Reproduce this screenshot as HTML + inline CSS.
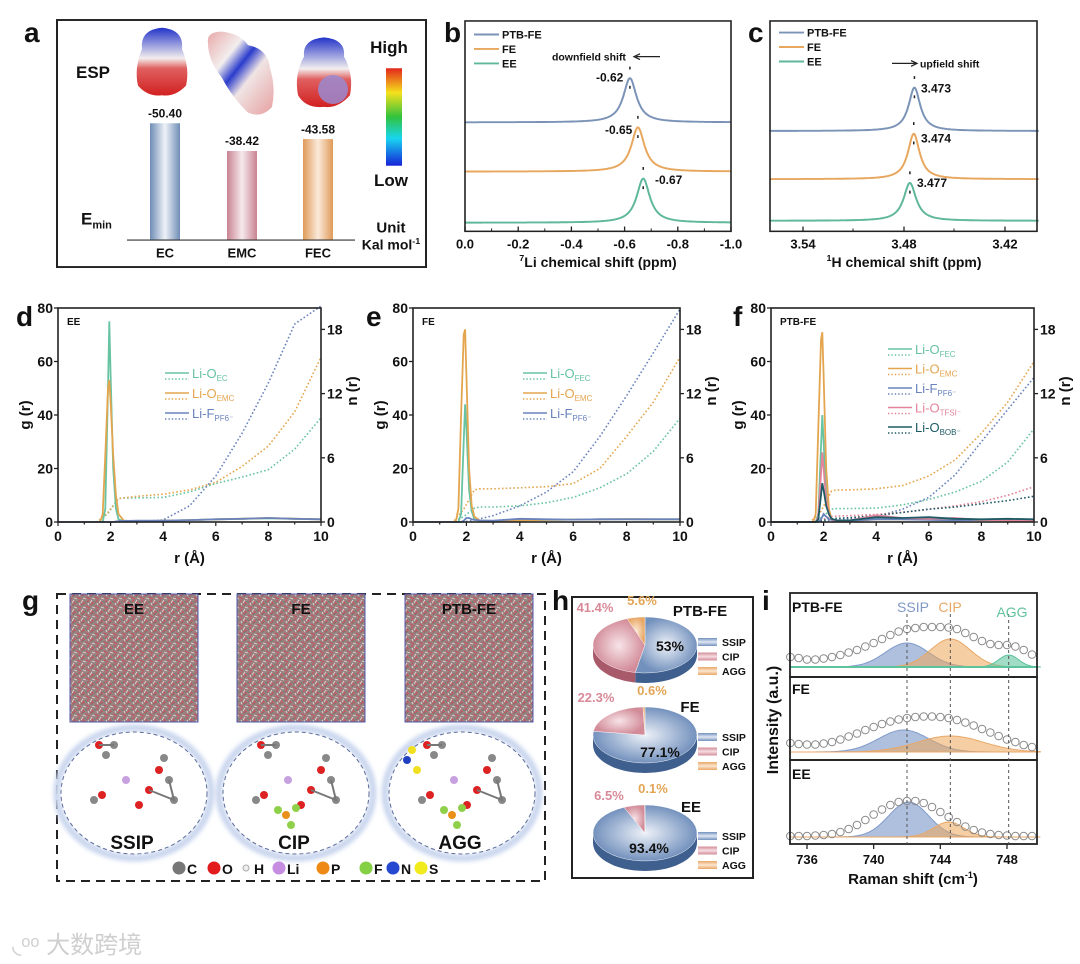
<!DOCTYPE html>
<html><head><meta charset="utf-8">
<style>
html,body{margin:0;padding:0;background:#fff;}
svg{display:block;font-family:"Liberation Sans","Noto Sans CJK SC",sans-serif;}
text{font-weight:bold;}
</style></head>
<body>
<svg id="fig" width="1080" height="964" viewBox="0 0 1080 964" xmlns="http://www.w3.org/2000/svg">
<defs>
  <linearGradient id="cbar" x1="0" y1="0" x2="0" y2="1">
    <stop offset="0" stop-color="#e3261c"/><stop offset="0.25" stop-color="#f5e11b"/>
    <stop offset="0.5" stop-color="#31c23d"/><stop offset="0.72" stop-color="#18d6f0"/>
    <stop offset="1" stop-color="#1622d8"/></linearGradient>
  <linearGradient id="barBlue" x1="0" x2="1"><stop offset="0" stop-color="#6f8db6"/><stop offset="0.5" stop-color="#eef2f8"/><stop offset="1" stop-color="#6f8db6"/></linearGradient>
  <linearGradient id="barPink" x1="0" x2="1"><stop offset="0" stop-color="#c98392"/><stop offset="0.5" stop-color="#f6e9ec"/><stop offset="1" stop-color="#c98392"/></linearGradient>
  <linearGradient id="barOrange" x1="0" x2="1"><stop offset="0" stop-color="#df9a58"/><stop offset="0.5" stop-color="#fbeadb"/><stop offset="1" stop-color="#df9a58"/></linearGradient>
  <linearGradient id="espA" x1="0" y1="0" x2="0" y2="1"><stop offset="0" stop-color="#2233c8"/><stop offset="0.45" stop-color="#f3eeee"/><stop offset="0.6" stop-color="#e06060"/><stop offset="1" stop-color="#d22020"/></linearGradient>
  <linearGradient id="espB" x1="0" y1="0" x2="1" y2="1"><stop offset="0" stop-color="#e9a9a9"/><stop offset="0.3" stop-color="#f3eeee"/><stop offset="0.45" stop-color="#2a3ccc"/><stop offset="0.6" stop-color="#f0e4e4"/><stop offset="1" stop-color="#e7a0a0"/></linearGradient>
  <radialGradient id="pieBlue"><stop offset="0" stop-color="#eef2f9"/><stop offset="1" stop-color="#7391bd"/></radialGradient>
  <radialGradient id="piePink"><stop offset="0" stop-color="#f7e4e8"/><stop offset="1" stop-color="#d28b98"/></radialGradient>
  <radialGradient id="pieOrange"><stop offset="0" stop-color="#fbe9d5"/><stop offset="1" stop-color="#e9a765"/></radialGradient>
  <linearGradient id="lgBlue" x1="0" y1="0" x2="0" y2="1"><stop offset="0" stop-color="#7391bd"/><stop offset="0.5" stop-color="#dfe7f3"/><stop offset="1" stop-color="#7391bd"/></linearGradient>
  <linearGradient id="lgPink" x1="0" y1="0" x2="0" y2="1"><stop offset="0" stop-color="#d28b98"/><stop offset="0.5" stop-color="#f6dde2"/><stop offset="1" stop-color="#d28b98"/></linearGradient>
  <linearGradient id="lgOrange" x1="0" y1="0" x2="0" y2="1"><stop offset="0" stop-color="#e9a765"/><stop offset="0.5" stop-color="#fbe6d0"/><stop offset="1" stop-color="#e9a765"/></linearGradient>
  <pattern id="md" width="9" height="9" patternUnits="userSpaceOnUse">
    <rect width="9" height="9" fill="#9a8283"/>
    <path d="M0 2 L4 0 M5 3 L9 5 M1 7 L3 9 M6 8 L8 6" stroke="#c9505c" stroke-width="1"/>
    <path d="M2 4 L5 5 M7 0 L8 2 M0 9 L2 6" stroke="#e2dbd6" stroke-width="0.9"/>
    <path d="M4 7 L6 9 M3 1 L1 3" stroke="#6a7f6b" stroke-width="0.8"/>
  </pattern>
  <filter id="blur2"><feGaussianBlur stdDeviation="2"/></filter>
</defs>
</svg>
<script>
// ---------- DATA ----------
const espMolecules = ['EC','EMC','FEC'];
const eminValues = [-50.40, -38.42, -43.58];

const nmrLiLabels = ['PTB-FE','FE','EE'];
const nmrLiCenters = [-0.62, -0.65, -0.67];
const nmrLiBaselines = [5.18, 2.84, 0.41];
const nmrLiHeights = [2.1, 2.1, 2.1];
const nmrLiWidths = [0.03, 0.03, 0.03];
const nmrLiTicks = ['0.0','-0.2','-0.4','-0.6','-0.8','-1.0'];
const nmrHLabels = ['3.473','3.474','3.477'];
const nmrHCenters = [3.4738, 3.4742, 3.4765];
const nmrHBaselines = [4.77, 2.48, 0.5];
const nmrHHeights = [2.06, 2.16, 1.8];
const nmrHWidths = [0.0042, 0.0042, 0.0045];
const nmrHTicks = [3.54, 3.48, 3.42];

const rG = [0,1.6,1.7,1.8,1.9,1.95,2.0,2.1,2.2,2.3,2.5,3,4,5,6,7,8,9,10];
const rN = [0,1,1.5,1.9,2.3,2.5,3,4,5,6,7,8,9,10];
// EE
const eeG_OEC  = [0,0,0,5,50,75,55,20,5,1,0.3,0.2,0.5,0.7,1,1.2,1.4,1.2,1];
const eeG_OEMC = [0,0,3,25,50,53,45,25,10,3,0.5,0.2,0.5,0.7,1,1.2,1.5,1.2,1];
const eeG_FPF6 = [0,0,0,0,0,0,0,0,0.2,0.3,0.4,0.5,0.5,0.7,1,1.2,1.5,1.2,1];
const eeN_OEC  = [0,0,0,0.8,2.2,2.25,2.25,2.3,2.8,3.6,4.2,4.9,6.8,9.75];
const eeN_OEMC = [0,0,0,0.9,2.2,2.25,2.4,2.6,3.0,3.7,5.2,7.1,10.3,15.4];
const eeN_FPF6 = [0,0,0,0,0,0,0,0.2,1.5,4.3,8.3,13,18.5,21];
// FE
const feG_OFEC = [0,0,0,3,30,44,35,12,4,1,0.4,0.3,0.6,0.8,0.9,1,1.1,1,1];
const feG_OEMC = [0,0,5,40,70,72,55,20,6,2,0.5,0.3,0.6,0.8,0.9,1,1.1,1,1];
const feG_FPF6 = [0,0,0,0,0.5,1,1.5,1.5,1,0.8,0.6,0.5,1.2,1,0.9,1,1,1,1];
const feN_OFEC = [0,0,0,0.5,1.3,1.4,1.4,1.5,1.8,2.3,3.2,4.5,6.6,9.7];
const feN_OEMC = [0,0,0,1.2,3.0,3.1,3.1,3.2,3.3,3.6,5.0,8.0,11.2,15.4];
const feN_FPF6 = [0,0,0,0,0.2,0.3,0.6,1.5,2.8,4.7,8,11.8,15.8,19.9];
// PTB-FE
const fG_OFEC = [0,0,0,3,28,40,30,10,3,1,0.5,0.5,1.5,1.2,1,0.8,0.8,0.6,0.5];
const fG_OEMC = [0,0,3,35,68,71,55,20,5,1,0.3,0.3,1,1,1.2,0.8,0.7,0.6,0.5];
const fG_FPF6 = [0,0,0,0,1,2,3,2,1,0.8,0.5,0.5,1,1,0.8,0.6,0.8,0.8,0.8];
const fG_OTFSI= [0,0,0,2,18,26,20,8,3,1,0.5,0.6,2.5,1.5,1.2,1.5,0.8,0.6,0.5];
const fG_OBOB = [0,0,0,1,10,14.5,12,6,3,1.2,0.6,0.6,1.8,1.5,1.8,1.2,1,1.2,1];
const fN_OFEC = [0,0,0,0.4,1.2,1.25,1.25,1.3,1.6,2.1,2.8,3.8,5.6,8.7];
const fN_OEMC = [0,0,0,1.0,2.9,3.0,3.0,3.1,3.4,4.3,5.8,8.3,11.2,15.0];
const fN_FPF6 = [0,0,0,0,0.1,0.2,0.3,0.5,1.2,2.3,4.4,7.5,10.5,13.5];
const fN_OTFSI= [0,0,0,0.2,0.5,0.55,0.6,0.7,0.9,1.2,1.5,1.9,2.5,3.3];
const fN_OBOB = [0,0,0,0.1,0.3,0.35,0.4,0.6,0.9,1.2,1.4,1.7,2.0,2.4];

const pieNames = ['PTB-FE','FE','EE'];
const pieSSIP = [53, 77.1, 93.4];
const pieCIP  = [41.4, 22.3, 6.5];
const pieAGG  = [5.6, 0.6, 0.1];

const ramanX = [735,735.5,736,736.5,737,737.5,738,738.5,739,739.5,740,740.5,741,741.5,742,742.5,743,743.5,744,744.5,745,745.5,746,746.5,747,747.5,748,748.5,749,749.5];
const ramanPTB = [0.2,0.18,0.15,0.15,0.17,0.2,0.24,0.29,0.34,0.41,0.48,0.56,0.64,0.71,0.76,0.78,0.8,0.8,0.8,0.79,0.76,0.68,0.6,0.52,0.46,0.44,0.44,0.41,0.34,0.25];
const ramanFE  = [0.18,0.16,0.15,0.15,0.17,0.2,0.25,0.31,0.37,0.44,0.5,0.56,0.61,0.65,0.68,0.7,0.71,0.71,0.7,0.68,0.64,0.59,0.53,0.46,0.39,0.32,0.25,0.2,0.14,0.1];
const ramanEE  = [0.02,0.02,0.02,0.03,0.04,0.06,0.1,0.16,0.24,0.34,0.45,0.55,0.64,0.7,0.72,0.72,0.68,0.6,0.5,0.4,0.3,0.21,0.14,0.09,0.06,0.04,0.03,0.02,0.02,0.02];
const fitCenters = [[742,744.6,748.1],[741.8,744.6],[742.1,744.5]];
const fitHeights = [[0.48,0.56,0.24],[0.44,0.32],[0.7,0.3]];
const fitSigmas  = [[1.3,1.2,0.6],[1.5,2.0],[1.2,0.9]];
const ramanTicks = [736,740,744,748];

// ---------- HELPERS ----------
const NS='http://www.w3.org/2000/svg';
const svg=document.getElementById('fig');
let cur=svg;
function mk(tag, attrs, parent){const e=document.createElementNS(NS,tag);for(const k in attrs)e.setAttribute(k,attrs[k]);(parent||cur).appendChild(e);return e;}
function txt(x,y,s,size,opts){opts=opts||{};const e=mk('text',{x:x,y:y,'font-size':size,fill:opts.fill||'#111','text-anchor':opts.anchor||'start'});if(opts.rot)e.setAttribute('transform','rotate(-90 '+x+' '+y+')');if(opts.weight)e.style.fontWeight=opts.weight;e.textContent=s;return e;}
function pathD(pts){return pts.map((p,i)=>(i?'L':'M')+p[0].toFixed(1)+' '+p[1].toFixed(1)).join(' ');}
let el;

// ---------- PANEL LABELS ----------
const panelLetters=[['a',24,42],['b',444,42],['c',748,42],['d',16,326],['e',366,326],['f',733,326],['g',22,610],['h',552,610],['i',762,610]];
panelLetters.forEach(p=>{el=txt(p[1],p[2],p[0],28);

});

const topRow=mk('g',{transform:'translate(0,0.7) scale(1,0.965)'});


cur=topRow;

// ---------- PANEL A ----------
el=mk('rect',{x:57,y:20,width:369,height:256,fill:'none',stroke:'#222','stroke-width':2});


el=txt(93,80,'ESP',17,{anchor:'middle'});


el=mk('path',{d:'M142 50 Q140 30 162 28 Q184 30 182 50 Q190 70 186 88 Q175 100 162 98 Q148 100 138 88 Q134 70 142 50 Z',fill:'url(#espA)'});


el=mk('path',{d:'M208 44 Q206 32 222 32 Q240 34 248 46 Q268 50 270 70 Q276 90 272 110 Q262 122 248 116 Q232 100 222 80 Q208 62 208 44 Z',fill:'url(#espB)'});


el=mk('path',{d:'M304 58 Q302 40 324 38 Q346 40 344 58 Q354 76 350 98 Q338 112 324 110 Q306 112 298 98 Q294 76 304 58 Z',fill:'url(#espA)'});


el=mk('circle',{cx:333,cy:92,r:15,fill:'#9a8ad0',opacity:0.85});


el=mk('rect',{x:386,y:70,width:16,height:101,fill:'url(#cbar)'});


el=txt(389,54,'High',17,{anchor:'middle'});


el=txt(391,192,'Low',17,{anchor:'middle'});


const barX=[165,242,318], barFill=['url(#barBlue)','url(#barPink)','url(#barOrange)'];
const eY=v=>248-(-v)/50.4*121;
espMolecules.forEach((m,i)=>{
  el=mk('rect',{x:barX[i]-15,y:eY(eminValues[i]),width:30,height:248-eY(eminValues[i]),fill:barFill[i]});
  
  
  el=txt(barX[i],eY(eminValues[i])-6,eminValues[i].toFixed(2),12,{anchor:'middle'});
  
  
  el=txt(barX[i],266,m,13,{anchor:'middle'});
  
  
});
el=mk('line',{x1:127,y1:248,x2:355,y2:248,stroke:'#333','stroke-width':1.2});


el=mk('text',{x:81,y:232,'font-size':17,fill:'#111'});el.innerHTML='E<tspan font-size="11" dy="4">min</tspan>';


el=txt(391,240,'Unit',15,{anchor:'middle'});


el=mk('text',{x:391,y:258,'font-size':14,fill:'#111','text-anchor':'middle'});el.innerHTML='Kal mol<tspan font-size="9" dy="-6">-1</tspan>';



// ---------- PANELS B, C (NMR) ----------
const nmrColors=['#7b93b7','#e8a75e','#5fb79c'];
function nmrPanel(key,L,R,xmap,centers,bases,heights,widths,labels,vmin,vmax){
  const T=21,B=239, ym=v=>B-(v/10)*(B-T);
  for(let i=0;i<3;i++){
    const pts=[];
    for(let k=0;k<=400;k++){const v=vmin+(vmax-vmin)*k/400;const d=(v-centers[i])/widths[i];pts.push([xmap(v),ym(bases[i]+heights[i]/(1+d*d))]);}
    el=mk('path',{d:pathD(pts),fill:'none',stroke:nmrColors[i],'stroke-width':2});
    
    
    const px=xmap(centers[i]),py=ym(bases[i]+heights[i]);
    el=mk('path',{d:'M'+px+' '+(py-12)+' v3 M'+px+' '+(py+8)+' v3',stroke:'#222','stroke-width':1.5});
    
    
  }
  el=mk('rect',{x:L,y:T,width:R-L,height:B-T,fill:'none',stroke:'#222','stroke-width':1.6});
  
  
  ['PTB-FE','FE','EE'].forEach((n,i)=>{
    const y=(key==='b'?35:33)+i*15;
    el=mk('line',{x1:L+9,y1:y,x2:L+34,y2:y,stroke:nmrColors[i],'stroke-width':2});
    
    
    el=txt(L+37,y+4,n,11);
    
    
  });
  return ym;
}
const xB=v=>465+(-v)*266;
nmrPanel('b',465,731,xB,nmrLiCenters,nmrLiBaselines,nmrLiHeights,nmrLiWidths,nmrLiLabels,0,-1);
nmrLiTicks.forEach((t,i)=>{const x=xB(-0.2*i);
  el=mk('line',{x1:x,y1:239,x2:x,y2:234,stroke:'#222','stroke-width':1.3});
  
  
  if(i<5){el=mk('line',{x1:x+26.6,y1:239,x2:x+26.6,y2:236,stroke:'#222'});
  
  }
  el=txt(x,257,t,13,{anchor:'middle'});
  
  });
el=mk('text',{x:598,y:276,'font-size':14,fill:'#111','text-anchor':'middle'});el.innerHTML='<tspan font-size="9" dy="-6">7</tspan><tspan dy="6">Li chemical shift (ppm)</tspan>';


const bLab=[[596,84,'-0.62'],[605,138,'-0.65'],[655,190,'-0.67']];
bLab.forEach((l,i)=>{el=txt(l[0],l[1],l[2],12);

});
el=txt(552,62,'downfield shift',10.5);


el=mk('path',{d:'M660 58 L636 58 M640 55 L634 58 L640 61',stroke:'#222','stroke-width':1.3,fill:'none'});



const xC=v=>803+(3.54-v)/0.06*101;
nmrPanel('c',770,1037,xC,nmrHCenters,nmrHBaselines,nmrHHeights,nmrHWidths,nmrHLabels,3.56,3.40);
nmrHTicks.forEach((t,i)=>{const x=xC(t);
  el=mk('line',{x1:x,y1:239,x2:x,y2:234,stroke:'#222','stroke-width':1.3});
  
  
  if(x+50<1035){el=mk('line',{x1:x+50,y1:239,x2:x+50,y2:236,stroke:'#222'});
  
  }
  el=txt(x,257,t.toFixed(2),13,{anchor:'middle'});
  
  });
el=mk('text',{x:904,y:276,'font-size':14,fill:'#111','text-anchor':'middle'});el.innerHTML='<tspan font-size="9" dy="-6">1</tspan><tspan dy="6">H chemical shift (ppm)</tspan>';


const cLabY=[95,147,193];
nmrHLabels.forEach((l,i)=>{el=txt(i<2?921:917,cLabY[i],l,12);

});
el=txt(920,69,'upfield shift',10.5);


el=mk('path',{d:'M892 65 L916 65 M911 62 L917 65 L911 68',stroke:'#222','stroke-width':1.3,fill:'none'});



cur=svg;

// ---------- PANELS D, E, F (RDF) ----------
const cGreen='#68c3a2', cOrange='#e4a54f', cBlue='#6a83bd', cPink='#e3849a', cDark='#1e5b66';
function rdfPanel(key,L,R,title,series,legend,legendX,legendY0,legendStep){
  const T=308,B=522;
  const xm=r=>L+r/10*(R-L), gy=v=>B-v/80*(B-T), ny=v=>Math.max(T-2,B-v/20*(B-T));
  series.forEach(s=>{
    let pts=rN.map((r,i)=>[xm(r),ny(s.n[i])]);
    el=mk('path',{d:pathD(pts),fill:'none',stroke:s.c,'stroke-width':1.6,'stroke-dasharray':'1.6 2.2'});
    
    
  });
  series.forEach(s=>{
    let pts=rG.map((r,i)=>[xm(r),gy(s.g[i])]);
    el=mk('path',{d:pathD(pts),fill:'none',stroke:s.c,'stroke-width':1.8});
    
    
  });
  el=mk('rect',{x:L,y:T,width:R-L,height:B-T,fill:'none',stroke:'#222','stroke-width':1.6});
  
  
  [0,20,40,60,80].forEach(v=>{
    el=mk('line',{x1:L-4,y1:gy(v),x2:L,y2:gy(v),stroke:'#222','stroke-width':1.3});
    
    
    el=txt(L-5,gy(v)+5,String(v),14,{anchor:'end'});
    
    });
  [0,6,12,18].forEach(v=>{
    el=mk('line',{x1:R,y1:ny(v),x2:R+4,y2:ny(v),stroke:'#222','stroke-width':1.3});
    
    
    el=txt(R+6,ny(v)+5,String(v),14);
    
    });
  for(let r=0;r<=10;r+=1){
    el=mk('line',{x1:xm(r),y1:B,x2:xm(r),y2:B+(r%2?2.5:4),stroke:'#222','stroke-width':1.2});
    
    
    if(r%2===0){el=txt(xm(r),541,String(r),14,{anchor:'middle'});
    
    }}
  el=txt((L+R)/2,563,'r (Å)',15,{anchor:'middle'});
  
  
  el=txt(L-28,(T+B)/2,'g (r)',15,{anchor:'middle',rot:1});
  
  
  el=txt(R+36,(T+B)/2-24,'n (r)',15,{anchor:'middle',rot:1});
  
  
  el=txt(L+9,325,title,10);
  
  
  legend.forEach((lg,i)=>{
    const y=legendY0+i*legendStep;
    el=mk('line',{x1:legendX,y1:y,x2:legendX+24,y2:y,stroke:lg.c,'stroke-width':1.6});
    
    
    el=mk('line',{x1:legendX,y1:y+6,x2:legendX+24,y2:y+6,stroke:lg.c,'stroke-width':1.4,'stroke-dasharray':'1.4 2'});
    
    
    el=mk('text',{x:legendX+27,y:y+5,'font-size':13,fill:lg.c});
    el.innerHTML=lg.t+'<tspan font-size="8" dy="3">'+lg.s+'</tspan>';
    el.style.fontWeight='normal';
    
    
  });
}
rdfPanel('d',58,321,'EE',[
  {id:'li-o-ec',c:cGreen,g:eeG_OEC,n:eeN_OEC},{id:'li-o-emc',c:cOrange,g:eeG_OEMC,n:eeN_OEMC},{id:'li-f-pf6',c:cBlue,g:eeG_FPF6,n:eeN_FPF6}],
  [{t:'Li-O',s:'EC',c:cGreen},{t:'Li-O',s:'EMC',c:cOrange},{t:'Li-F',s:'PF6⁻',c:cBlue}],165,373,20);
rdfPanel('e',413,680,'FE',[
  {id:'li-o-fec',c:cGreen,g:feG_OFEC,n:feN_OFEC},{id:'li-o-emc',c:cOrange,g:feG_OEMC,n:feN_OEMC},{id:'li-f-pf6',c:cBlue,g:feG_FPF6,n:feN_FPF6}],
  [{t:'Li-O',s:'FEC',c:cGreen},{t:'Li-O',s:'EMC',c:cOrange},{t:'Li-F',s:'PF6⁻',c:cBlue}],523,373,20);
rdfPanel('f',771,1034,'PTB-FE',[
  {id:'li-o-fec',c:cGreen,g:fG_OFEC,n:fN_OFEC},{id:'li-o-emc',c:cOrange,g:fG_OEMC,n:fN_OEMC},{id:'li-f-pf6',c:cBlue,g:fG_FPF6,n:fN_FPF6},
  {id:'li-o-tfsi',c:cPink,g:fG_OTFSI,n:fN_OTFSI},{id:'li-o-bob',c:cDark,g:fG_OBOB,n:fN_OBOB}],
  [{t:'Li-O',s:'FEC',c:cGreen},{t:'Li-O',s:'EMC',c:cOrange},{t:'Li-F',s:'PF6⁻',c:cBlue},{t:'Li-O',s:'TFSI⁻',c:cPink},{t:'Li-O',s:'BOB⁻',c:cDark}],888,349,19.5);

// ---------- PANEL G ----------
el=mk('rect',{x:57,y:594,width:488,height:287,fill:'none',stroke:'#222','stroke-width':2,'stroke-dasharray':'9 6'});


const mdBoxes=[[70,'EE'],[237,'FE'],[405,'PTB-FE']];
mdBoxes.forEach(b=>{
  el=mk('rect',{x:b[0],y:594,width:128,height:128,fill:'url(#md)',stroke:'#4f58aa','stroke-width':1});
  
  
  el=txt(b[0]+64,614,b[1],15,{anchor:'middle'});
  
  
});
const clusters=[[134,'SSIP'],[296,'CIP'],[462,'AGG']];
clusters.forEach(c=>{
  el=mk('ellipse',{cx:c[0],cy:793,rx:77,ry:65,fill:'#fff',stroke:'#c9d6ee','stroke-width':7,filter:'url(#blur2)'});
  
  
  el=mk('ellipse',{cx:c[0],cy:793,rx:73,ry:61,fill:'#fff',stroke:'#5b6c9c','stroke-width':1,'stroke-dasharray':'4 3'});
  
  
  const g=mk('g',{});
  
  
  const atoms=[[-35,-35,'#d22'],[-28,-25,'#888'],[-20,-35,'#888'],[25,-10,'#d22'],[35,0,'#888'],[15,10,'#d22'],[40,20,'#888'],[30,-22,'#888'],[-40,20,'#888'],[-32,15,'#d22'],[5,25,'#d22'],[-8,0,'#c7a0e0']];
  atoms.forEach(a=>{mk('circle',{cx:c[0]+a[0],cy:780+a[1],r:4,fill:a[2]},g);});
  if(c[1]!=='SSIP'){[[ -10,35,'#e8901a'],[-18,30,'#8ed04a'],[0,28,'#8ed04a'],[-5,45,'#8ed04a']].forEach(a=>mk('circle',{cx:c[0]+a[0],cy:780+a[1],r:4,fill:a[2]},g));}
  if(c[1]==='AGG'){[[-50,-30,'#f0e020'],[-45,-10,'#f0e020'],[-55,-20,'#2040c0']].forEach(a=>mk('circle',{cx:c[0]+a[0],cy:780+a[1],r:4,fill:a[2]},g));}
  mk('path',{d:'M'+(c[0]-35)+' 745 L'+(c[0]-20)+' 745 M'+(c[0]+15)+' 790 L'+(c[0]+40)+' 800 L'+(c[0]+35)+' 780',stroke:'#777','stroke-width':2,fill:'none'},g);
  el=txt(c[0]-2,849,c[1],19,{anchor:'middle'});
  
  
});
const atomLegend=[[179,'C','#777'],[214,'O','#e21c1c'],[246,'H','#eee'],[279,'Li','#c58ce0'],[323,'P','#ee8a14'],[366,'F','#86d046'],[393,'N','#2448d0'],[421,'S','#f1ea1c']];
atomLegend.forEach(a=>{
  el=mk('circle',{cx:a[0],cy:868,r:a[1]==='H'?3:6.5,fill:a[2],stroke:a[1]==='H'?'#aaa':'none'});
  
  
  el=txt(a[0]+8,874,a[1],14);
  
  
});

// ---------- PANEL H (3D pies) ----------
el=mk('rect',{x:572,y:597,width:181,height:281,fill:'none',stroke:'#222','stroke-width':2});


const pieCY=[645,735,833], pieCX=645, pieRX=52, pieRY=28, pieDepth=10;
const sliceTop=['url(#pieBlue)','url(#piePink)','url(#pieOrange)'], sliceSide=['#3f5f8f','#a85a6a','#c98a40'], sliceKeys=['ssip','cip','agg'];
pieNames.forEach((name,p)=>{
  const vals=[pieSSIP[p],pieCIP[p],pieAGG[p]];
  const cy=pieCY[p];
  const pt=(a,dy)=>[pieCX+pieRX*Math.sin(a),cy-pieRY*Math.cos(a)+(dy||0)];
  let a0=0;
  const arcs=vals.map(v=>{const a1=a0+v/100*2*Math.PI;const r=[a0,a1];a0=a1;return r;});
  arcs.forEach((ar,k)=>{
    const s=Math.max(ar[0],Math.PI/2), e=Math.min(ar[1],Math.PI*1.5);
    if(e>s){const top=[],bot=[];for(let j=0;j<=30;j++){const a=s+(e-s)*j/30;top.push(pt(a));bot.push(pt(a,pieDepth));}
      el=mk('path',{d:pathD(top.concat(bot.reverse()))+' Z',fill:sliceSide[k]});
      
      }
  });
  arcs.forEach((ar,k)=>{
    const pts=[[pieCX,cy]];for(let j=0;j<=40;j++)pts.push(pt(ar[0]+(ar[1]-ar[0])*j/40));
    el=mk('path',{d:pathD(pts)+' Z',fill:sliceTop[k],stroke:'#fff','stroke-width':0.4});
    
    
  });
  el=txt(pieCX+(p===0?25:p===1?15:4),cy+(p===0?6:p===1?22:20),(p===0?'53':vals[0].toFixed(1))+'%',14,{anchor:'middle'});
  
  
  const ly=[612,702,800][p];
  el=txt([595,596,609][p],ly,vals[1].toFixed(1)+'%',13,{anchor:'middle',fill:'#d88a98'});
  
  
  el=txt([642,652,653][p],ly-7,vals[2].toFixed(1)+'%',13,{anchor:'middle',fill:'#e3a555'});
  
  
  el=txt([700,690,691][p],[616,712,812][p],name,15,{anchor:'middle'});
  
  
  const ry0=[642,737,836][p];
  ['SSIP','CIP','AGG'].forEach((s,k)=>{
    el=mk('rect',{x:698,y:ry0+k*14.5-4,width:19,height:8,fill:['url(#lgBlue)','url(#lgPink)','url(#lgOrange)'][k]});
    
    
    el=txt(722,ry0+k*14.5+4,s,10.5);
    
    
  });
});

// ---------- PANEL I (Raman) ----------
const xR=v=>807+(v-736)/12*200;
const subBase=[667,752,837], subTop=[593,677,760], subBot=[677,760,844], subNames=['PTB-FE','FE','EE'], ramanSeries=[ramanPTB,ramanFE,ramanEE];
const fitFill=['rgba(110,140,195,0.55)','rgba(236,165,90,0.55)','rgba(98,196,160,0.6)'];
const fitStroke=['#7f9acb','#e9a866','#5cc39c'];
const fitKeys=['ssip','cip','agg'];
subNames.forEach((n,p)=>{
  const yb=subBase[p], ys=v=>yb-v*50;
  fitCenters[p].forEach((c,k)=>{
    const pts=[[xR(735),yb]];
    for(let j=0;j<=150;j++){const x=735+15*j/150;const d=(x-c)/fitSigmas[p][k];pts.push([xR(x),ys(fitHeights[p][k]*Math.exp(-0.5*d*d))]);}
    pts.push([xR(750),yb]);
    el=mk('path',{d:pathD(pts)+' Z',fill:fitFill[k],stroke:fitStroke[k],'stroke-width':1});
    
    
  });
  if(p===0){el=mk('line',{x1:790,y1:yb,x2:1037,y2:yb,stroke:'#5cc39c','stroke-width':2});
    
    }
  ramanX.forEach((x,j)=>{
    el=mk('circle',{cx:xR(x),cy:ys(ramanSeries[p][j]),r:3.8,fill:'none',stroke:'#888','stroke-width':1});
    
    
  });
  el=mk('rect',{x:790,y:subTop[p],width:247,height:subBot[p]-subTop[p],fill:'none',stroke:'#222','stroke-width':1.8});
  
  
  el=txt(792,[612,694,779][p],n,14);
  
  
});
[742,744.6,748.1].forEach((v,k)=>{
  el=mk('line',{x1:xR(v),y1:614,x2:xR(v),y2:844,stroke:'#555','stroke-width':1,'stroke-dasharray':'3 3'});
  
  
});
[['SSIP',913,'#7f98c6'],['CIP',950,'#e9a866'],['AGG',1012,'#62c29d']].forEach((l,k)=>{
  el=txt(l[1],k===2?617:612,l[0],14,{anchor:'middle',fill:l[2]});
  el.style.fontWeight='normal';
  
  
});
ramanTicks.forEach(t=>{
  el=mk('line',{x1:xR(t),y1:844,x2:xR(t),y2:849,stroke:'#222','stroke-width':1.3});
  
  
  el=txt(xR(t),864,String(t),13,{anchor:'middle'});
  
  
});
el=mk('text',{x:913,y:884,'font-size':15,fill:'#111','text-anchor':'middle'});el.innerHTML='Raman shift (cm<tspan font-size="9" dy="-6">-1</tspan><tspan dy="6">)</tspan>';


el=txt(778,720,'Intensity (a.u.)',16,{anchor:'middle',rot:1});



// ---------- WATERMARK ----------
el=txt(12,953,'◟ᵒᵒ 大数跨境',24,{fill:'#cfcfcf'});
el.style.fontWeight='normal';


</script>
</body></html>
